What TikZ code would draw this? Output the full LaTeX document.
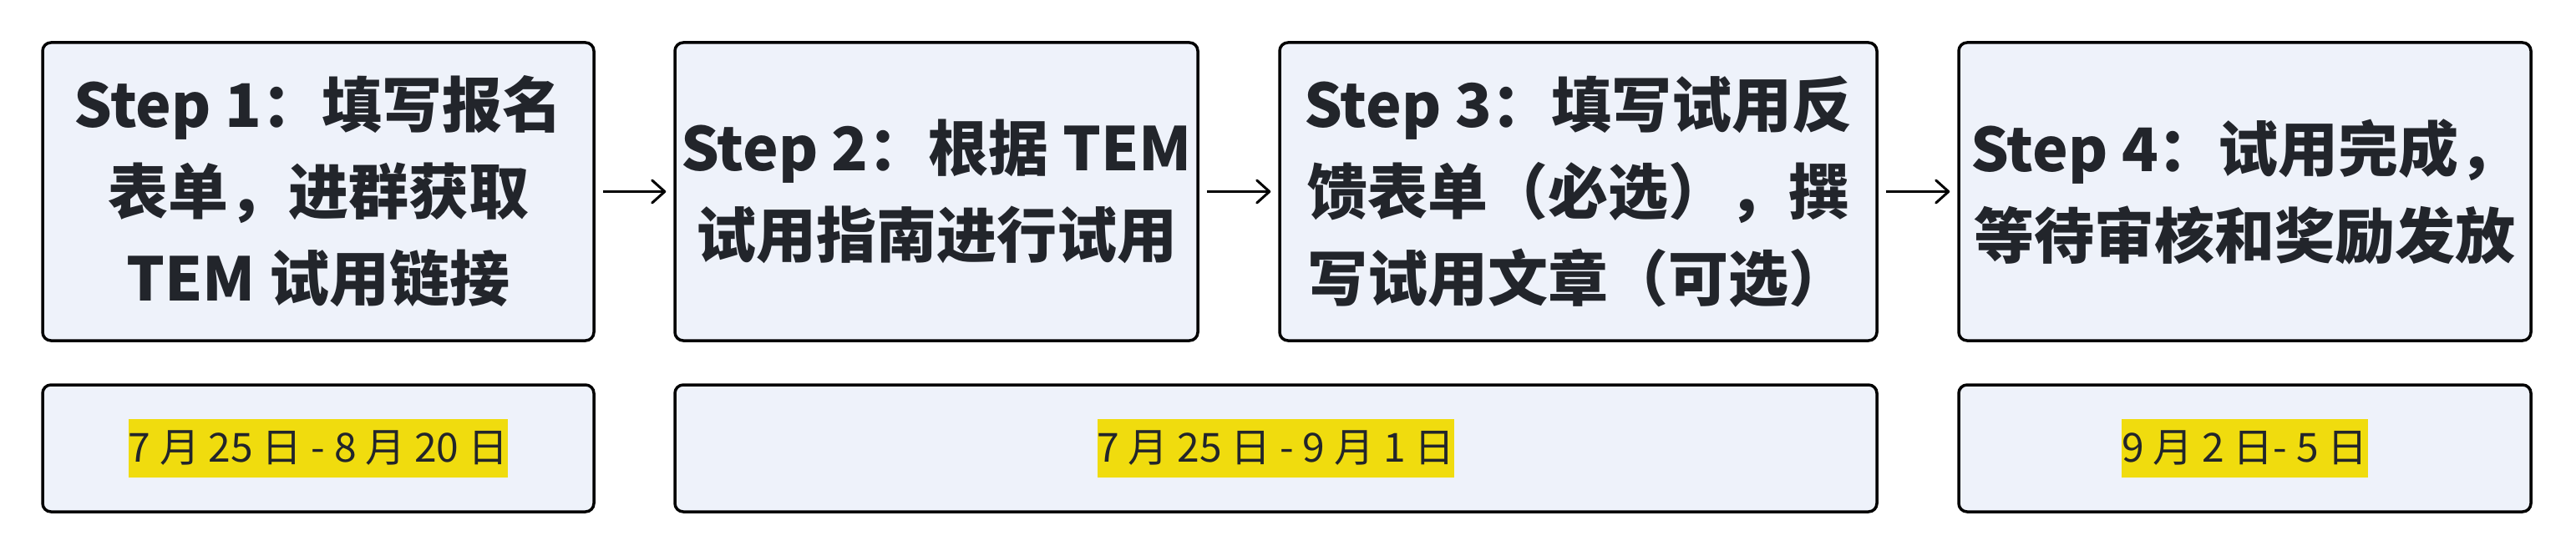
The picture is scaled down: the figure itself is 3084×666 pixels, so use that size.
\documentclass[tikz,border=0pt]{standalone}
\usepackage{fontspec}
\setmainfont{Noto Sans CJK SC}
\usetikzlibrary{arrows.meta}
\definecolor{boxfill}{HTML}{EEF2FA}
\definecolor{ink}{HTML}{22252B}
\definecolor{hl}{HTML}{F0DC0E}
\tikzset{
  stepbox/.style={draw=black, line width=3.5pt, rounded corners=10pt, fill=boxfill,
    minimum height=357pt, inner sep=0pt, align=center, text=ink,
    font=\fontsize{72}{104}\selectfont\bfseries},
  datebox/.style={draw=black, line width=3.5pt, rounded corners=10pt, fill=boxfill,
    minimum height=152pt, inner sep=0pt},
  datetext/.style={fill=hl, text=ink, inner xsep=0pt, inner ysep=0pt, minimum height=70pt,
    font=\fontsize{48}{60}\selectfont},
  flow/.style={draw=black, line width=3pt, shorten <=9pt, shorten >=9pt,
    -{Straight Barb[length=15pt, width=27pt, line cap=round, line join=round]}}
}
\begin{document}
\begin{tikzpicture}[x=1pt, y=1pt]
\useasboundingbox (0,0) rectangle (3084,-666);
\node[stepbox, minimum width=660pt] (s1) at (381,-229.5) {Step 1：填写报名\\表单，进群获取\\TEM 试用链接};
\node[stepbox, minimum width=626pt] (s2) at (1121,-229.5) {Step 2：根据 TEM\\试用指南进行试用};
\node[stepbox, minimum width=715pt] (s3) at (1889.5,-229.5) {Step 3：填写试用反\\馈表单（必选），撰\\写试用文章（可选）};
\node[stepbox, minimum width=685pt] (s4) at (2687.5,-229.5) {Step 4：试用完成，\\等待审核和奖励发放};
\node[datebox, minimum width=660pt] (d1) at (381,-537) {};
\node[datebox, minimum width=1439pt] (d2) at (1527.5,-537) {};
\node[datebox, minimum width=685pt] (d3) at (2687.5,-537) {};
\node[datetext] (t1) at (d1.center) {7 月 25 日 - 8 月 20 日};
\node[datetext] (t2) at (d2.center) {7 月 25 日 - 9 月 1 日};
\node[datetext] (t3) at (d3.center) {9 月 2 日- 5 日};
\draw[flow] (s1.east) -- (s2.west);
\draw[flow] (s2.east) -- (s3.west);
\draw[flow] (s3.east) -- (s4.west);
\end{tikzpicture}
\end{document}
